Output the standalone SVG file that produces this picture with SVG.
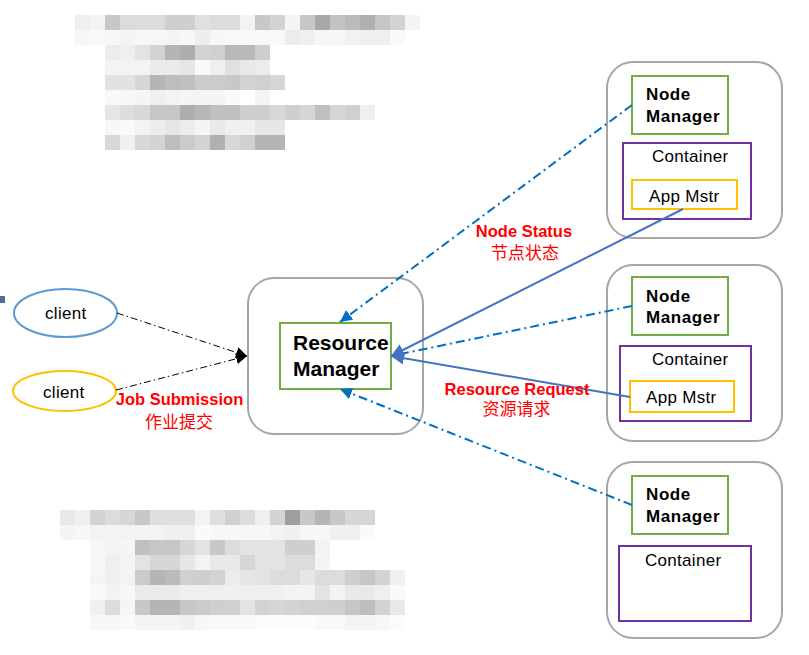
<svg xmlns="http://www.w3.org/2000/svg" width="809" height="655" viewBox="0 0 809 655">
<style>
text{font-family:"Liberation Sans",Arial,sans-serif;fill:#000}
.outer{fill:#fff;stroke:#a6a6a6;stroke-width:2}
.nm{fill:#fff;stroke:#70ad47;stroke-width:2}
.ct{fill:#fff;stroke:#7030a0;stroke-width:2}
.am{fill:#fff;stroke:#ffc000;stroke-width:2}
.b{font-weight:bold;font-size:17px;letter-spacing:0.6px}
.r{font-size:17px;letter-spacing:0.3px}
.lbl{font-weight:bold;font-size:16.5px;fill:#ff0000;text-anchor:middle}
.cjk{font-family:"Liberation Sans","Noto Sans CJK SC",sans-serif;font-size:17px;fill:#ff0000;text-anchor:middle}
.dd{fill:none;stroke:#0070c0;stroke-width:2;stroke-dasharray:9 4 2 4}
.sl{fill:none;stroke:#4472c4;stroke-width:2}
.bk{fill:none;stroke:#000;stroke-width:1;stroke-dasharray:7 3 1.5 3}
</style>
<defs>
<marker id="ab" viewBox="0 0 10 10" refX="10" refY="5" markerWidth="12" markerHeight="12" markerUnits="userSpaceOnUse" orient="auto"><path d="M0,0 L10,5 L0,10 z" fill="#0070c0"/></marker>
<marker id="as" viewBox="0 0 10 10" refX="10" refY="5" markerWidth="13" markerHeight="13" markerUnits="userSpaceOnUse" orient="auto"><path d="M0,0 L10,5 L0,10 z" fill="#4472c4"/></marker>
<marker id="ak" viewBox="0 0 10 10" refX="10" refY="5" markerWidth="11" markerHeight="12" markerUnits="userSpaceOnUse" orient="auto"><path d="M0,0 L10,5 L0,10 z" fill="#000"/></marker>
</defs>
<rect width="809" height="655" fill="#fff"/>

<g id="mosaic-top">
<rect x="75" y="15" width="15" height="15" fill="#efefef"/><rect x="90" y="15" width="15" height="15" fill="#f3f3f3"/><rect x="105" y="15" width="15" height="15" fill="#c8c8c8"/><rect x="120" y="15" width="15" height="15" fill="#dcdcdc"/><rect x="135" y="15" width="15" height="15" fill="#dcdcdc"/><rect x="150" y="15" width="15" height="15" fill="#dcdcdc"/><rect x="165" y="15" width="15" height="15" fill="#cfcfcf"/><rect x="180" y="15" width="15" height="15" fill="#cfcfcf"/><rect x="195" y="15" width="15" height="15" fill="#e0e0e0"/><rect x="210" y="15" width="15" height="15" fill="#dcdcdc"/><rect x="225" y="15" width="15" height="15" fill="#dcdcdc"/><rect x="240" y="15" width="15" height="15" fill="#f3f3f3"/><rect x="255" y="15" width="15" height="15" fill="#c8c8c8"/><rect x="270" y="15" width="15" height="15" fill="#d3d3d3"/><rect x="285" y="15" width="15" height="15" fill="#f5f5f5"/><rect x="300" y="15" width="15" height="15" fill="#c8c8c8"/><rect x="315" y="15" width="15" height="15" fill="#a8a8a8"/><rect x="330" y="15" width="15" height="15" fill="#c3c3c3"/><rect x="345" y="15" width="15" height="15" fill="#bbbbbb"/><rect x="360" y="15" width="15" height="15" fill="#b0b0b0"/><rect x="375" y="15" width="15" height="15" fill="#c6c6c6"/><rect x="390" y="15" width="15" height="15" fill="#d3d3d3"/><rect x="405" y="15" width="15" height="15" fill="#f5f5f5"/>
<rect x="75" y="30" width="15" height="15" fill="#f7f7f7"/><rect x="90" y="30" width="15" height="15" fill="#f8f8f8"/><rect x="105" y="30" width="15" height="15" fill="#f7f7f7"/><rect x="120" y="30" width="15" height="15" fill="#f5f5f5"/><rect x="135" y="30" width="15" height="15" fill="#f6f6f6"/><rect x="150" y="30" width="15" height="15" fill="#f6f6f6"/><rect x="165" y="30" width="15" height="15" fill="#f5f5f5"/><rect x="180" y="30" width="15" height="15" fill="#f7f7f7"/><rect x="195" y="30" width="15" height="15" fill="#eeeeee"/><rect x="210" y="30" width="15" height="15" fill="#f7f7f7"/><rect x="225" y="30" width="15" height="15" fill="#f9f9f9"/><rect x="240" y="30" width="15" height="15" fill="#f9f9f9"/><rect x="255" y="30" width="15" height="15" fill="#f9f9f9"/><rect x="270" y="30" width="15" height="15" fill="#f9f9f9"/><rect x="285" y="30" width="15" height="15" fill="#ececec"/><rect x="300" y="30" width="15" height="15" fill="#efefef"/><rect x="315" y="30" width="15" height="15" fill="#f7f7f7"/><rect x="330" y="30" width="15" height="15" fill="#f7f7f7"/><rect x="345" y="30" width="15" height="15" fill="#f2f2f2"/><rect x="360" y="30" width="15" height="15" fill="#efefef"/><rect x="375" y="30" width="15" height="15" fill="#efefef"/><rect x="390" y="30" width="15" height="15" fill="#fafafa"/>
<rect x="105" y="45" width="15" height="15" fill="#ececec"/><rect x="120" y="45" width="15" height="15" fill="#efefef"/><rect x="135" y="45" width="15" height="15" fill="#e3e3e3"/><rect x="150" y="45" width="15" height="15" fill="#d3d3d3"/><rect x="165" y="45" width="15" height="15" fill="#b5b5b5"/><rect x="180" y="45" width="15" height="15" fill="#aeaeae"/><rect x="195" y="45" width="15" height="15" fill="#d3d3d3"/><rect x="210" y="45" width="15" height="15" fill="#d0d0d0"/><rect x="225" y="45" width="15" height="15" fill="#b9b9b9"/><rect x="240" y="45" width="15" height="15" fill="#b9b9b9"/><rect x="255" y="45" width="15" height="15" fill="#cfcfcf"/>
<rect x="105" y="60" width="15" height="15" fill="#f3f3f3"/><rect x="120" y="60" width="15" height="15" fill="#f3f3f3"/><rect x="135" y="60" width="15" height="15" fill="#f3f3f3"/><rect x="150" y="60" width="15" height="15" fill="#eaeaea"/><rect x="165" y="60" width="15" height="15" fill="#eaeaea"/><rect x="180" y="60" width="15" height="15" fill="#e6e6e6"/><rect x="195" y="60" width="15" height="15" fill="#f9f9f9"/><rect x="210" y="60" width="15" height="15" fill="#efefef"/><rect x="225" y="60" width="15" height="15" fill="#e0e0e0"/><rect x="240" y="60" width="15" height="15" fill="#e9e9e9"/><rect x="255" y="60" width="15" height="15" fill="#ececec"/>
<rect x="105" y="75" width="15" height="15" fill="#e2e2e2"/><rect x="120" y="75" width="15" height="15" fill="#e2e2e2"/><rect x="135" y="75" width="15" height="15" fill="#d6d6d6"/><rect x="150" y="75" width="15" height="15" fill="#b5b5b5"/><rect x="165" y="75" width="15" height="15" fill="#bdbdbd"/><rect x="180" y="75" width="15" height="15" fill="#c0c0c0"/><rect x="195" y="75" width="15" height="15" fill="#cbcbcb"/><rect x="210" y="75" width="15" height="15" fill="#cbcbcb"/><rect x="225" y="75" width="15" height="15" fill="#c8c8c8"/><rect x="240" y="75" width="15" height="15" fill="#d3d3d3"/><rect x="255" y="75" width="15" height="15" fill="#d0d0d0"/><rect x="270" y="75" width="15" height="15" fill="#d6d6d6"/>
<rect x="105" y="90" width="15" height="15" fill="#f9f9f9"/><rect x="120" y="90" width="15" height="15" fill="#f7f7f7"/><rect x="135" y="90" width="15" height="15" fill="#f5f5f5"/><rect x="150" y="90" width="15" height="15" fill="#efefef"/><rect x="165" y="90" width="15" height="15" fill="#f3f3f3"/><rect x="180" y="90" width="15" height="15" fill="#f5f5f5"/><rect x="195" y="90" width="15" height="15" fill="#f5f5f5"/><rect x="210" y="90" width="15" height="15" fill="#f4f4f4"/><rect x="225" y="90" width="15" height="15" fill="#fafafa"/><rect x="255" y="90" width="15" height="15" fill="#f5f5f5"/>
<rect x="105" y="105" width="15" height="15" fill="#e6e6e6"/><rect x="120" y="105" width="15" height="15" fill="#dddddd"/><rect x="135" y="105" width="15" height="15" fill="#d8d8d8"/><rect x="150" y="105" width="15" height="15" fill="#c6c6c6"/><rect x="165" y="105" width="15" height="15" fill="#c6c6c6"/><rect x="180" y="105" width="15" height="15" fill="#aeaeae"/><rect x="195" y="105" width="15" height="15" fill="#b7b7b7"/><rect x="210" y="105" width="15" height="15" fill="#c0c0c0"/><rect x="225" y="105" width="15" height="15" fill="#bfbfbf"/><rect x="240" y="105" width="15" height="15" fill="#cfcfcf"/><rect x="255" y="105" width="15" height="15" fill="#cfcfcf"/><rect x="270" y="105" width="15" height="15" fill="#d8d8d8"/><rect x="285" y="105" width="15" height="15" fill="#cfcfcf"/><rect x="300" y="105" width="15" height="15" fill="#d6d6d6"/><rect x="315" y="105" width="15" height="15" fill="#c0c0c0"/><rect x="330" y="105" width="15" height="15" fill="#d6d6d6"/><rect x="345" y="105" width="15" height="15" fill="#d0d0d0"/><rect x="360" y="105" width="15" height="15" fill="#efefef"/>
<rect x="105" y="120" width="15" height="15" fill="#f7f7f7"/><rect x="120" y="120" width="15" height="15" fill="#fafafa"/><rect x="135" y="120" width="15" height="15" fill="#f3f3f3"/><rect x="150" y="120" width="15" height="15" fill="#ececec"/><rect x="165" y="120" width="15" height="15" fill="#e6e6e6"/><rect x="180" y="120" width="15" height="15" fill="#ececec"/><rect x="195" y="120" width="15" height="15" fill="#f5f5f5"/><rect x="210" y="120" width="15" height="15" fill="#e9e9e9"/><rect x="225" y="120" width="15" height="15" fill="#efefef"/><rect x="240" y="120" width="15" height="15" fill="#f0f0f0"/><rect x="255" y="120" width="15" height="15" fill="#e7e7e7"/><rect x="270" y="120" width="15" height="15" fill="#e7e7e7"/>
<rect x="105" y="135" width="15" height="15" fill="#d8d8d8"/><rect x="120" y="135" width="15" height="15" fill="#f0f0f0"/><rect x="135" y="135" width="15" height="15" fill="#d8d8d8"/><rect x="150" y="135" width="15" height="15" fill="#d3d3d3"/><rect x="165" y="135" width="15" height="15" fill="#bdbdbd"/><rect x="180" y="135" width="15" height="15" fill="#cbcbcb"/><rect x="195" y="135" width="15" height="15" fill="#d3d3d3"/><rect x="210" y="135" width="15" height="15" fill="#b0b0b0"/><rect x="225" y="135" width="15" height="15" fill="#d8d8d8"/><rect x="240" y="135" width="15" height="15" fill="#d0d0d0"/><rect x="255" y="135" width="15" height="15" fill="#b5b5b5"/><rect x="270" y="135" width="15" height="15" fill="#b5b5b5"/>
</g>

<g id="mosaic-bottom">
<rect x="60" y="510" width="15" height="15" fill="#e8e8e8"/><rect x="75" y="510" width="15" height="15" fill="#f0f0f0"/><rect x="90" y="510" width="15" height="15" fill="#d3d3d3"/><rect x="105" y="510" width="15" height="15" fill="#dcdcdc"/><rect x="120" y="510" width="15" height="15" fill="#d6d6d6"/><rect x="135" y="510" width="15" height="15" fill="#c8c8c8"/><rect x="150" y="510" width="15" height="15" fill="#dfdfdf"/><rect x="165" y="510" width="15" height="15" fill="#dfdfdf"/><rect x="180" y="510" width="15" height="15" fill="#dfdfdf"/><rect x="195" y="510" width="15" height="15" fill="#f3f3f3"/><rect x="210" y="510" width="15" height="15" fill="#dfdfdf"/><rect x="225" y="510" width="15" height="15" fill="#d0d0d0"/><rect x="240" y="510" width="15" height="15" fill="#dcdcdc"/><rect x="255" y="510" width="15" height="15" fill="#f0f0f0"/><rect x="270" y="510" width="15" height="15" fill="#d3d3d3"/><rect x="285" y="510" width="15" height="15" fill="#9e9e9e"/><rect x="300" y="510" width="15" height="15" fill="#c8c8c8"/><rect x="315" y="510" width="15" height="15" fill="#b5b5b5"/><rect x="330" y="510" width="15" height="15" fill="#c8c8c8"/><rect x="345" y="510" width="15" height="15" fill="#d6d6d6"/><rect x="360" y="510" width="15" height="15" fill="#d6d6d6"/>
<rect x="60" y="525" width="15" height="15" fill="#f5f5f5"/><rect x="75" y="525" width="15" height="15" fill="#f7f7f7"/><rect x="90" y="525" width="15" height="15" fill="#f3f3f3"/><rect x="105" y="525" width="15" height="15" fill="#f3f3f3"/><rect x="120" y="525" width="15" height="15" fill="#f3f3f3"/><rect x="135" y="525" width="15" height="15" fill="#f3f3f3"/><rect x="150" y="525" width="15" height="15" fill="#f3f3f3"/><rect x="165" y="525" width="15" height="15" fill="#efefef"/><rect x="180" y="525" width="15" height="15" fill="#efefef"/><rect x="195" y="525" width="15" height="15" fill="#fafafa"/><rect x="210" y="525" width="15" height="15" fill="#f7f7f7"/><rect x="225" y="525" width="15" height="15" fill="#f7f7f7"/><rect x="240" y="525" width="15" height="15" fill="#f7f7f7"/><rect x="255" y="525" width="15" height="15" fill="#f7f7f7"/><rect x="270" y="525" width="15" height="15" fill="#f3f3f3"/><rect x="285" y="525" width="15" height="15" fill="#f0f0f0"/><rect x="300" y="525" width="15" height="15" fill="#f7f7f7"/><rect x="315" y="525" width="15" height="15" fill="#f7f7f7"/><rect x="330" y="525" width="15" height="15" fill="#f0f0f0"/><rect x="345" y="525" width="15" height="15" fill="#f0f0f0"/><rect x="360" y="525" width="15" height="15" fill="#fafafa"/>
<rect x="90" y="540" width="15" height="15" fill="#f7f7f7"/><rect x="105" y="540" width="15" height="15" fill="#f3f3f3"/><rect x="120" y="540" width="15" height="15" fill="#f5f5f5"/><rect x="135" y="540" width="15" height="15" fill="#c0c0c0"/><rect x="150" y="540" width="15" height="15" fill="#c6c6c6"/><rect x="165" y="540" width="15" height="15" fill="#c6c6c6"/><rect x="180" y="540" width="15" height="15" fill="#d6d6d6"/><rect x="195" y="540" width="15" height="15" fill="#e3e3e3"/><rect x="210" y="540" width="15" height="15" fill="#c8c8c8"/><rect x="225" y="540" width="15" height="15" fill="#dcdcdc"/><rect x="240" y="540" width="15" height="15" fill="#e3e3e3"/><rect x="255" y="540" width="15" height="15" fill="#e3e3e3"/><rect x="270" y="540" width="15" height="15" fill="#e3e3e3"/><rect x="285" y="540" width="15" height="15" fill="#cfcfcf"/><rect x="300" y="540" width="15" height="15" fill="#cfcfcf"/><rect x="315" y="540" width="15" height="15" fill="#f3f3f3"/>
<rect x="90" y="555" width="15" height="15" fill="#f7f7f7"/><rect x="105" y="555" width="15" height="15" fill="#efefef"/><rect x="120" y="555" width="15" height="15" fill="#f3f3f3"/><rect x="135" y="555" width="15" height="15" fill="#e3e3e3"/><rect x="150" y="555" width="15" height="15" fill="#d6d6d6"/><rect x="165" y="555" width="15" height="15" fill="#d6d6d6"/><rect x="180" y="555" width="15" height="15" fill="#e6e6e6"/><rect x="195" y="555" width="15" height="15" fill="#f3f3f3"/><rect x="210" y="555" width="15" height="15" fill="#e9e9e9"/><rect x="225" y="555" width="15" height="15" fill="#e9e9e9"/><rect x="240" y="555" width="15" height="15" fill="#d6d6d6"/><rect x="255" y="555" width="15" height="15" fill="#e3e3e3"/><rect x="270" y="555" width="15" height="15" fill="#e3e3e3"/><rect x="285" y="555" width="15" height="15" fill="#dcdcdc"/><rect x="300" y="555" width="15" height="15" fill="#dcdcdc"/><rect x="315" y="555" width="15" height="15" fill="#f5f5f5"/>
<rect x="90" y="570" width="15" height="15" fill="#f5f5f5"/><rect x="105" y="570" width="15" height="15" fill="#efefef"/><rect x="120" y="570" width="15" height="15" fill="#f3f3f3"/><rect x="135" y="570" width="15" height="15" fill="#cbcbcb"/><rect x="150" y="570" width="15" height="15" fill="#b5b5b5"/><rect x="165" y="570" width="15" height="15" fill="#bbbbbb"/><rect x="180" y="570" width="15" height="15" fill="#d0d0d0"/><rect x="195" y="570" width="15" height="15" fill="#cfcfcf"/><rect x="210" y="570" width="15" height="15" fill="#d3d3d3"/><rect x="225" y="570" width="15" height="15" fill="#ececec"/><rect x="240" y="570" width="15" height="15" fill="#e6e6e6"/><rect x="255" y="570" width="15" height="15" fill="#e3e3e3"/><rect x="270" y="570" width="15" height="15" fill="#dcdcdc"/><rect x="285" y="570" width="15" height="15" fill="#dcdcdc"/><rect x="300" y="570" width="15" height="15" fill="#e6e6e6"/><rect x="315" y="570" width="15" height="15" fill="#dcdcdc"/><rect x="330" y="570" width="15" height="15" fill="#dcdcdc"/><rect x="345" y="570" width="15" height="15" fill="#cfcfcf"/><rect x="360" y="570" width="15" height="15" fill="#c6c6c6"/><rect x="375" y="570" width="15" height="15" fill="#d3d3d3"/><rect x="390" y="570" width="15" height="15" fill="#f0f0f0"/>
<rect x="90" y="585" width="15" height="15" fill="#fafafa"/><rect x="105" y="585" width="15" height="15" fill="#f3f3f3"/><rect x="120" y="585" width="15" height="15" fill="#f7f7f7"/><rect x="135" y="585" width="15" height="15" fill="#eaeaea"/><rect x="150" y="585" width="15" height="15" fill="#eaeaea"/><rect x="165" y="585" width="15" height="15" fill="#eaeaea"/><rect x="180" y="585" width="15" height="15" fill="#efefef"/><rect x="195" y="585" width="15" height="15" fill="#efefef"/><rect x="210" y="585" width="15" height="15" fill="#efefef"/><rect x="225" y="585" width="15" height="15" fill="#efefef"/><rect x="240" y="585" width="15" height="15" fill="#efefef"/><rect x="255" y="585" width="15" height="15" fill="#efefef"/><rect x="270" y="585" width="15" height="15" fill="#f0f0f0"/><rect x="285" y="585" width="15" height="15" fill="#f3f3f3"/><rect x="300" y="585" width="15" height="15" fill="#f3f3f3"/><rect x="315" y="585" width="15" height="15" fill="#e3e3e3"/><rect x="330" y="585" width="15" height="15" fill="#f3f3f3"/><rect x="345" y="585" width="15" height="15" fill="#e9e9e9"/><rect x="360" y="585" width="15" height="15" fill="#e9e9e9"/><rect x="375" y="585" width="15" height="15" fill="#efefef"/><rect x="390" y="585" width="15" height="15" fill="#fafafa"/>
<rect x="90" y="600" width="15" height="15" fill="#f0f0f0"/><rect x="105" y="600" width="15" height="15" fill="#dcdcdc"/><rect x="120" y="600" width="15" height="15" fill="#f5f5f5"/><rect x="135" y="600" width="15" height="15" fill="#c8c8c8"/><rect x="150" y="600" width="15" height="15" fill="#b5b5b5"/><rect x="165" y="600" width="15" height="15" fill="#b5b5b5"/><rect x="180" y="600" width="15" height="15" fill="#c8c8c8"/><rect x="195" y="600" width="15" height="15" fill="#cbcbcb"/><rect x="210" y="600" width="15" height="15" fill="#cfcfcf"/><rect x="225" y="600" width="15" height="15" fill="#d0d0d0"/><rect x="240" y="600" width="15" height="15" fill="#e3e3e3"/><rect x="255" y="600" width="15" height="15" fill="#d3d3d3"/><rect x="270" y="600" width="15" height="15" fill="#d6d6d6"/><rect x="285" y="600" width="15" height="15" fill="#d3d3d3"/><rect x="300" y="600" width="15" height="15" fill="#d0d0d0"/><rect x="315" y="600" width="15" height="15" fill="#d0d0d0"/><rect x="330" y="600" width="15" height="15" fill="#cfcfcf"/><rect x="345" y="600" width="15" height="15" fill="#c6c6c6"/><rect x="360" y="600" width="15" height="15" fill="#bdbdbd"/><rect x="375" y="600" width="15" height="15" fill="#d3d3d3"/><rect x="390" y="600" width="15" height="15" fill="#e9e9e9"/>
<rect x="90" y="615" width="15" height="15" fill="#f7f7f7"/><rect x="105" y="615" width="15" height="15" fill="#f7f7f7"/><rect x="120" y="615" width="15" height="15" fill="#fafafa"/><rect x="135" y="615" width="15" height="15" fill="#f5f5f5"/><rect x="150" y="615" width="15" height="15" fill="#f5f5f5"/><rect x="165" y="615" width="15" height="15" fill="#f5f5f5"/><rect x="180" y="615" width="15" height="15" fill="#f0f0f0"/><rect x="195" y="615" width="15" height="15" fill="#f7f7f7"/><rect x="210" y="615" width="15" height="15" fill="#f9f9f9"/><rect x="225" y="615" width="15" height="15" fill="#f9f9f9"/><rect x="240" y="615" width="15" height="15" fill="#f9f9f9"/><rect x="255" y="615" width="15" height="15" fill="#fcfcfc"/><rect x="270" y="615" width="15" height="15" fill="#fcfcfc"/><rect x="285" y="615" width="15" height="15" fill="#fcfcfc"/><rect x="300" y="615" width="15" height="15" fill="#fcfcfc"/><rect x="315" y="615" width="15" height="15" fill="#f9f9f9"/><rect x="330" y="615" width="15" height="15" fill="#f9f9f9"/><rect x="345" y="615" width="15" height="15" fill="#f3f3f3"/><rect x="360" y="615" width="15" height="15" fill="#f5f5f5"/><rect x="375" y="615" width="15" height="15" fill="#f7f7f7"/><rect x="390" y="615" width="15" height="15" fill="#fbfbfb"/>
</g>

<rect x="0" y="296" width="5" height="7" fill="#4f6e9a"/>

<g id="rm">
<rect class="outer" x="248" y="278" width="175" height="156" rx="26"/>
<rect class="nm" x="280" y="323" width="111" height="66"/>
<text x="293" y="350" style="font-weight:bold;font-size:21px">Resource</text>
<text x="293" y="376" style="font-weight:bold;font-size:21px">Manager</text>
</g>

<g id="node1">
<rect class="outer" x="607" y="62" width="175" height="176" rx="26"/>
<rect class="nm" x="632" y="76" width="96" height="58"/>
<text class="b" x="646" y="100">Node</text>
<text class="b" x="646" y="122">Manager</text>
<rect class="ct" x="623" y="143" width="128" height="76"/>
<text class="r" x="652" y="162">Container</text>
<rect class="am" x="632" y="180" width="105" height="29"/>
<text class="r" x="649" y="202">App Mstr</text>
</g>

<g id="node2">
<rect class="outer" x="607" y="265" width="175" height="176" rx="26"/>
<rect class="nm" x="632" y="277" width="96" height="58"/>
<text class="b" x="646" y="302">Node</text>
<text class="b" x="646" y="323">Manager</text>
<rect class="ct" x="620" y="346" width="131" height="75"/>
<text class="r" x="652" y="365">Container</text>
<rect class="am" x="630" y="381" width="104" height="31"/>
<text class="r" x="646" y="403">App Mstr</text>
</g>

<g id="node3">
<rect class="outer" x="607" y="462" width="175" height="176" rx="26"/>
<rect class="nm" x="632" y="476" width="96" height="58"/>
<text class="b" x="646" y="500">Node</text>
<text class="b" x="646" y="522">Manager</text>
<rect class="ct" x="619" y="546" width="132" height="75"/>
<text class="r" x="645" y="566">Container</text>
</g>

<g id="client1">
<ellipse cx="65.5" cy="313" rx="51.5" ry="24" fill="#fff" stroke="#5b9bd5" stroke-width="2"/>
<text class="r" x="45" y="319">client</text>
</g>
<g id="client2">
<ellipse cx="64.5" cy="391" rx="51.5" ry="20" fill="#fff" stroke="#ffc000" stroke-width="2"/>
<text class="r" x="43" y="398">client</text>
</g>

<g id="connectors">
<line class="bk" x1="117" y1="313" x2="247" y2="356" marker-end="url(#ak)"/>
<line class="bk" x1="116" y1="390" x2="247" y2="356" marker-end="url(#ak)"/>
<line class="dd" x1="632" y1="105" x2="340" y2="322" marker-end="url(#ab)"/>
<line class="dd" x1="632" y1="306" x2="391" y2="356" marker-end="url(#ab)"/>
<line class="dd" x1="632" y1="505" x2="340" y2="389" marker-end="url(#ab)"/>
<line class="sl" x1="683" y1="209" x2="391" y2="356" marker-end="url(#as)"/>
<line class="sl" x1="630" y1="397" x2="391" y2="356" marker-end="url(#as)"/>
</g>

<g id="labels">
<text class="lbl" x="179.5" y="405">Job Submission</text>
<text class="cjk" x="179" y="428">作业提交</text>
<text class="lbl" x="524" y="237">Node Status</text>
<text class="cjk" x="525" y="259">节点状态</text>
<text class="lbl" x="517" y="395">Resource Request</text>
<text class="cjk" x="516.5" y="415">资源请求</text>
</g>
</svg>
